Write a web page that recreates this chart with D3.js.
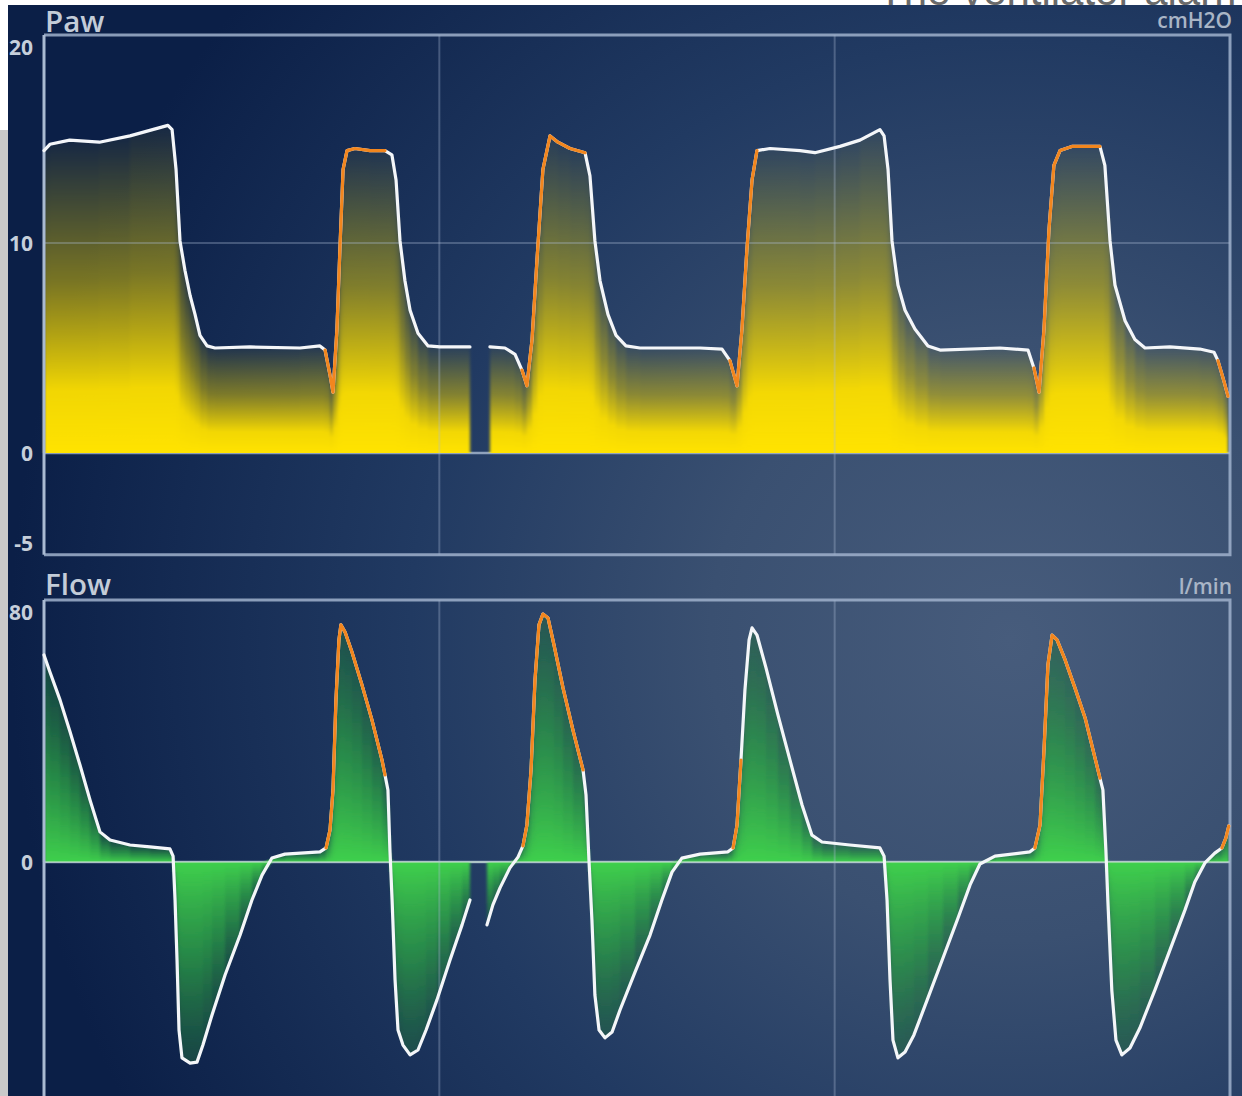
<!DOCTYPE html>
<html>
<head>
<meta charset="utf-8">
<script src="https://cdn.jsdelivr.net/npm/d3@7"></script>
<style>
  html, body { margin: 0; padding: 0; background: #ffffff; }
  svg { display: block; }
</style>
</head>
<body>
<script>
// ---- Airway pressure (cmH2O) ----
const pawTime = [0, 0.03, 0.13, 0.28, 0.435, 0.627, 0.648, 0.668, 0.688, 0.713, 0.739, 0.764, 0.789, 0.825, 0.865,
  1.042, 1.295, 1.396, 1.422, 1.447, 1.462, 1.482, 1.497, 1.513, 1.533, 1.573, 1.649, 1.725, 1.76, 1.781, 1.801,
  1.826, 1.852, 1.892, 1.943, 2.003, 2.155, 2.2, 2.256, 2.332, 2.383, 2.418, 2.443, 2.469, 2.494, 2.524, 2.56,
  2.6, 2.661, 2.737, 2.762, 2.787, 2.813, 2.853, 2.894, 2.944, 3.015, 3.319, 3.43, 3.47, 3.506, 3.531, 3.556,
  3.582, 3.607, 3.673, 3.825, 3.9, 4.027, 4.128, 4.229, 4.25, 4.27, 4.29, 4.32, 4.356, 4.406, 4.472, 4.533,
  4.836, 4.978, 5.008, 5.034, 5.059, 5.084, 5.109, 5.14, 5.2, 5.342, 5.367, 5.393, 5.418, 5.469, 5.519, 5.57,
  5.696, 5.848, 5.919, 5.939, 5.97, 5.99];
const pawValue = [14.4, 14.7, 14.9, 14.8, 15.1, 15.6, 15.4, 13.5, 10.1, 8.7, 7.5, 6.6, 5.6, 5.1, 5.0,
  5.05, 5.0, 5.1, 4.9, 3.7, 2.9, 5.9, 9.7, 13.5, 14.4, 14.5, 14.4, 14.4, 14.2, 13.0, 10.1,
  8.2, 6.8, 5.7, 5.1, 5.05, 5.05, null, 5.05, 5.0, 4.7, 3.95, 3.2, 5.4, 9.2, 13.5, 15.1,
  14.8, 14.5, 14.3, 13.2, 10.1, 8.2, 6.6, 5.6, 5.1, 5.0, 5.0, 4.95, 4.4, 3.2, 5.9, 9.7,
  13.0, 14.4, 14.5, 14.4, 14.3, 14.6, 14.9, 15.4, 15.1, 13.5, 10.1, 8.0, 6.8, 5.9, 5.1, 4.9,
  5.0, 4.9, 4.05, 2.9, 5.9, 10.6, 13.7, 14.4, 14.6, 14.6, 13.7, 10.1, 8.0, 6.3, 5.4, 5.0,
  5.05, 4.95, 4.8, 4.4, 3.4, 2.7];
// patient-triggered inspirations (start, end) in seconds
const pawTriggerStart = [1.422, 2.418, 3.47, 5.008, 5.939];
const pawTriggerEnd   = [1.725, 2.737, 3.607, 5.342, 5.99];
const pawTicks = [20, 10, 0, -5];

// ---- Flow (l/min) ----
const flowTime = [0, 0.03, 0.081, 0.132, 0.182, 0.233, 0.283, 0.334, 0.435, 0.536, 0.637, 0.653, 0.663, 0.673,
  0.683, 0.698, 0.739, 0.774, 0.804, 0.85, 0.916, 0.992, 1.052, 1.103, 1.153, 1.219, 1.396, 1.427, 1.447,
  1.462, 1.477, 1.492, 1.502, 1.523, 1.558, 1.609, 1.659, 1.71, 1.725, 1.74, 1.75, 1.761, 1.776, 1.791,
  1.816, 1.852, 1.892, 1.933, 1.988, 2.054, 2.115, 2.155, 2.2, 2.241, 2.271, 2.307, 2.357, 2.398, 2.423,
  2.443, 2.464, 2.484, 2.504, 2.524, 2.55, 2.58, 2.626, 2.676, 2.727, 2.742, 2.757, 2.772, 2.787, 2.808,
  2.838, 2.874, 2.914, 2.99, 3.066, 3.126, 3.177, 3.227, 3.319, 3.46, 3.486, 3.506, 3.526, 3.546, 3.567,
  3.582, 3.607, 3.653, 3.713, 3.774, 3.835, 3.885, 3.936, 4.077, 4.229, 4.25, 4.265, 4.28, 4.295, 4.32,
  4.356, 4.401, 4.472, 4.548, 4.624, 4.685, 4.735, 4.811, 4.988, 5.013, 5.039, 5.059, 5.079, 5.1, 5.125,
  5.166, 5.216, 5.267, 5.317, 5.342, 5.357, 5.372, 5.382, 5.402, 5.423, 5.453, 5.494, 5.544, 5.62, 5.696,
  5.772, 5.822, 5.873, 5.923, 5.959, 5.979, 5.994];
const flowValue = [63.2, 58, 49.5, 39.7, 29.6, 18.9, 9.2, 6.7, 5.2, 4.6, 4.0, 1.8, -11.6, -29.9,
  -51.3, -59.8, -61.4, -61.1, -55.9, -46.7, -34.5, -22.3, -11.6, -4.0, 1.2, 2.4, 3.1, 4.3, 9.8,
  22.0, 49.5, 67.8, 72.4, 70.2, 64.1, 54.0, 43.4, 31.1, 26.6, 22.0, 3.7, -11.6, -36.0, -51.3,
  -55.9, -58.9, -57.4, -51.3, -42.1, -29.9, -19.2, -11.6, null, -19.2, -13.1, -7.9, -1.8, 1.5, 4.9,
  11.3, 28.1, 55.6, 72.4, 75.7, 74.5, 66.3, 53.1, 40.3, 28.1, 20.5, 0.6, -17.7, -40.6, -51.3,
  -53.7, -51.9, -45.2, -33.6, -22.3, -11.6, -3.1, 1.2, 2.4, 3.1, 4.3, 11.3, 31.1, 52.5, 67.8,
  71.5, 69.3, 59.2, 44.9, 31.1, 17.4, 8.2, 6.1, 5.2, 4.3, 1.8, -11.6, -36.0, -54.4, -59.8,
  -58.0, -52.8, -41.5, -29.3, -17.1, -7.0, -0.6, 1.8, 3.1, 4.3, 11.3, 34.2, 60.2, 69.3, 67.8,
  61.7, 53.1, 44.0, 31.8, 25.6, 22.0, 3.7, -11.6, -39.1, -54.4, -58.9, -56.8, -50.7, -39.1, -26.9,
  -14.7, -6.1, -0.3, 2.7, 4.3, 7.3, 11.0];
const flowTriggerStart = [1.427, 2.423, 3.486, 5.013, 5.959];
const flowTriggerEnd   = [1.725, 2.727, 3.526, 5.342, 5.994];
const flowTicks = [80, 0];

const timeDomain = [0, 6];
const timeGrid = [2, 4];

// ---- layout ----
const W = 1242, H = 1096;
const svg = d3.select("body").append("svg").attr("width", W).attr("height", H);
const defs = svg.append("defs");

const bgGrad = defs.append("radialGradient").attr("id", "screenBg")
  .attr("gradientUnits", "userSpaceOnUse").attr("cx", 1010).attr("cy", 640).attr("r", 1000);
[[0, "#475c7c"], [0.3, "#3a5071"], [0.6, "#213a62"], [1, "#0b1f47"]].forEach(([o, c]) =>
  bgGrad.append("stop").attr("offset", o).attr("stop-color", c));

function vGrad(id, stops) {
  const g = defs.append("linearGradient").attr("id", id)
    .attr("x1", 0).attr("y1", 0).attr("x2", 0).attr("y2", 1);
  stops.forEach(([o, c, a]) => g.append("stop").attr("offset", o).attr("stop-color", c).attr("stop-opacity", a));
}
vGrad("pawFill", [[0, "#e0c800", 0.05], [0.45, "#e6ca00", 0.5], [0.8, "#fbde00", 0.96], [1, "#ffe300", 1]]);
vGrad("flowUp", [[0, "#1f6a3c", 0.45], [0.5, "#2a9a45", 0.8], [1, "#3fd04c", 1]]);
vGrad("flowDown", [[0, "#3fd04c", 1], [0.5, "#2a9a45", 0.8], [1, "#1f6a3c", 0.45]]);

const soften = defs.append("filter").attr("id", "soften")
  .attr("x", "-2%").attr("y", "-2%").attr("width", "104%").attr("height", "104%");
soften.append("feGaussianBlur").attr("stdDeviation", "1.8 0.5");

svg.append("rect").attr("width", W).attr("height", H).attr("fill", "#ffffff");
svg.append("rect").attr("x", 0).attr("y", 130).attr("width", 8).attr("height", H - 130).attr("fill", "#c9c9c9");
svg.append("rect").attr("x", 8).attr("y", 5).attr("width", W - 8).attr("height", H - 5).attr("fill", "url(#screenBg)");

// caption of the page above the screen, cut by the screen edge
defs.append("clipPath").attr("id", "topStrip").append("rect").attr("x", 0).attr("y", 0).attr("width", W).attr("height", 5);
svg.append("text").attr("clip-path", "url(#topStrip)")
  .attr("x", 878).attr("y", 5).attr("font-family", "Liberation Sans, Arial, sans-serif")
  .attr("font-size", 42).attr("fill", "#6a6a6a").text("The ventilator alarm");

const x = d3.scaleLinear().domain(timeDomain).range([44, 1230]);
const xr = t => Math.round(x(t));
const FRAME = "rgba(160,178,205,0.85)";
const GRID = "rgba(175,190,215,0.32)";
const LABEL = "#c6cfdb";

function panel(cfg) {
  const { y, top, bottom, time, value, trigStart, trigEnd, ticks, title, unit, titleY, unitY, bipolar, hGrid } = cfg;
  const g = svg.append("g");

  // zero line under the fill
  g.append("line").attr("x1", x(timeDomain[0])).attr("x2", x(timeDomain[1]))
    .attr("y1", y(0)).attr("y2", y(0)).attr("stroke", "rgba(190,205,225,0.7)").attr("stroke-width", 2.5);

  // gradient fill, one slice per sample interval, normalised to its own height
  const slices = [];
  const signs = bipolar ? [1, -1] : [1];
  signs.forEach(s => {
    for (let i = 0; i < time.length - 1; i++) {
      if (value[i] == null || value[i + 1] == null) continue;
      const a = s > 0 ? Math.max(value[i], 0) : Math.min(value[i], 0);
      const b = s > 0 ? Math.max(value[i + 1], 0) : Math.min(value[i + 1], 0);
      if (a === 0 && b === 0) continue;
      slices.push({ t0: time[i], t1: time[i + 1], a, b, s });
    }
  });
  g.append("g").attr("filter", "url(#soften)")
    .selectAll("path").data(slices).join("path")
    .attr("d", d => `M${xr(d.t0)},${y(0)}L${xr(d.t0)},${y(d.a)}L${xr(d.t1)},${y(d.b)}L${xr(d.t1)},${y(0)}Z`)
    .attr("shape-rendering", "crispEdges")
    .attr("fill", d => bipolar ? (d.s > 0 ? "url(#flowUp)" : "url(#flowDown)") : "url(#pawFill)");

  if (bipolar) {
    g.append("line").attr("x1", x(timeDomain[0])).attr("x2", x(timeDomain[1]))
      .attr("y1", y(0)).attr("y2", y(0)).attr("stroke", "rgba(200,225,210,0.55)").attr("stroke-width", 2);
  }

  // grid
  g.selectAll(".vg").data(timeGrid).join("line")
    .attr("x1", d => x(d)).attr("x2", d => x(d)).attr("y1", top).attr("y2", bottom)
    .attr("stroke", GRID).attr("stroke-width", 2);
  g.selectAll(".hg").data(hGrid).join("line")
    .attr("x1", x(timeDomain[0])).attr("x2", x(timeDomain[1])).attr("y1", d => y(d)).attr("y2", d => y(d))
    .attr("stroke", GRID).attr("stroke-width", 2);

  // frame
  const L = x(timeDomain[0]), R = x(timeDomain[1]);
  g.append("path").attr("d", `M${L},${top}H${R}V${bottom}H${L}`)
    .attr("fill", "none").attr("stroke", FRAME).attr("stroke-width", 3);
  g.append("line").attr("x1", L).attr("x2", L).attr("y1", top).attr("y2", bottom)
    .attr("stroke", "#a9bad2").attr("stroke-width", 3);

  // waveform
  const line = d3.line().defined(d => d.v != null).x(d => x(d.t)).y(d => y(d.v));
  const pts = time.map((t, i) => ({ t, v: value[i] }));
  g.append("path").datum(pts).attr("d", line)
    .attr("fill", "none").attr("stroke", "#f4f6f9").attr("stroke-width", 3.2)
    .attr("stroke-linejoin", "round").attr("stroke-linecap", "round");
  trigStart.forEach((s, k) => {
    const e = trigEnd[k];
    const seg = pts.filter(p => p.t >= s - 1e-6 && p.t <= e + 1e-6);
    g.append("path").datum(seg).attr("d", line)
      .attr("fill", "none").attr("stroke", "#f2861e").attr("stroke-width", 3.2)
      .attr("stroke-linejoin", "round").attr("stroke-linecap", "round");
  });

  // tick labels
  g.selectAll(".tk").data(ticks).join("text")
    .attr("x", 33).attr("y", d => Math.max(top + 12, Math.min(bottom - 12, y(d))))
    .attr("text-anchor", "end").attr("dominant-baseline", "central")
    .attr("font-family", "Open Sans, Noto Sans, sans-serif").attr("font-weight", 700)
    .attr("font-size", 21).attr("fill", LABEL).text(d => d);

  g.append("text").attr("x", 45).attr("y", titleY)
    .attr("font-family", "Open Sans, Noto Sans, sans-serif").attr("font-weight", 600)
    .attr("font-size", 29.5).attr("fill", "#c3ccd8").text(title);
  g.append("text").attr("x", R + 2).attr("y", unitY).attr("text-anchor", "end")
    .attr("font-family", "Open Sans, Noto Sans, sans-serif").attr("font-weight", 600)
    .attr("font-size", 21).attr("fill", "#a9b5c6").text(unit);
}

const pawY = d3.scaleLinear().domain([0, 20]).range([453, 33]);
panel({
  y: pawY, top: pawY(20) + 2, bottom: pawY(-4.85), time: pawTime, value: pawValue,
  trigStart: pawTriggerStart, trigEnd: pawTriggerEnd, ticks: pawTicks,
  title: "Paw", unit: "cmH2O", titleY: 31.5, unitY: 28, bipolar: false, hGrid: [10]
});

const flowY = d3.scaleLinear().domain([0, 80]).range([862, 600]);
panel({
  y: flowY, top: flowY(80), bottom: flowY(-80), time: flowTime, value: flowValue,
  trigStart: flowTriggerStart, trigEnd: flowTriggerEnd, ticks: flowTicks,
  title: "Flow", unit: "l/min", titleY: 595, unitY: 594, bipolar: true, hGrid: []
});
</script>
</body>
</html>
